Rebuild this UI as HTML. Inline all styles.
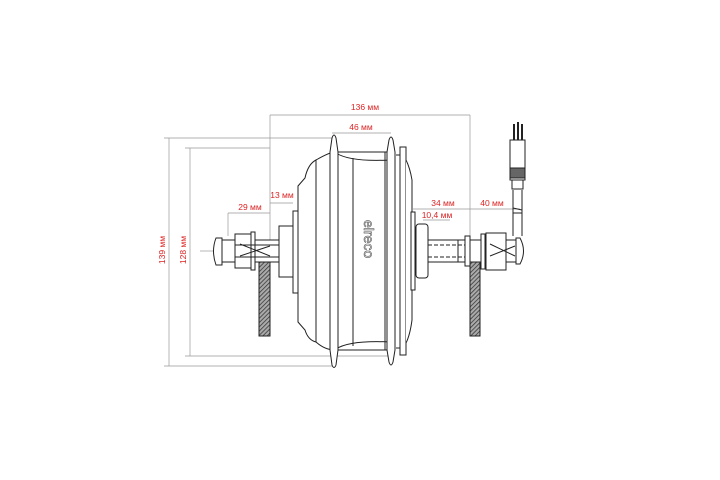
<!DOCTYPE html>
<html><head><meta charset="utf-8"><style>html,body{margin:0;padding:0;background:#fff}svg{display:block}</style></head><body>
<svg width="720" height="480" viewBox="0 0 720 480" xmlns="http://www.w3.org/2000/svg" font-family="Liberation Sans, sans-serif">
<defs><pattern id="h" width="3" height="3" patternUnits="userSpaceOnUse" patternTransform="rotate(45)"><rect width="3" height="3" fill="#aaa"/><line x1="0" y1="0" x2="0" y2="3" stroke="#333" stroke-width="1.5"/></pattern></defs>
<g stroke="#999" stroke-width="0.7" fill="none">
<line x1="270" y1="115" x2="470" y2="115"/>
<line x1="270" y1="115" x2="270" y2="262"/>
<line x1="470" y1="115" x2="470" y2="262"/>
<line x1="164" y1="138" x2="333" y2="138"/>
<line x1="164" y1="366" x2="333" y2="366"/>
<line x1="169" y1="138" x2="169" y2="366"/>
<line x1="185" y1="148" x2="270" y2="148"/>
<line x1="185" y1="356" x2="390" y2="356"/>
<line x1="190" y1="148" x2="190" y2="356"/>
<line x1="332" y1="133" x2="391" y2="133"/>
<line x1="270" y1="203" x2="293" y2="203"/>
<line x1="228" y1="213" x2="270" y2="213"/>
<line x1="228" y1="213" x2="228" y2="236"/>
<line x1="413" y1="209" x2="520" y2="209"/>
<line x1="423" y1="220" x2="450" y2="220"/>
<line x1="200" y1="251" x2="214" y2="251"/>
</g>
<g fill="#d22" font-size="8.5" text-anchor="middle">
<text x="365" y="110">136 мм</text>
<text x="361" y="130">46 мм</text>
<text x="282" y="198">13 мм</text>
<text x="250" y="210">29 мм</text>
<text x="443" y="206">34 мм</text>
<text x="492" y="206">40 мм</text>
<text x="437" y="218">10,4 мм</text>
<text transform="translate(165,250) rotate(-90)">139 мм</text>
<text transform="translate(186,250) rotate(-90)">128 мм</text>
</g>
<g stroke="#222" stroke-width="1" fill="#fff">
<!-- left cone -->
<path d="M316 160 L316 342 Q308 340 305 330 L298 322 L298 186 L305 178 Q308 164 316 160 Z"/>
<rect x="293" y="211" width="5" height="82"/>
<rect x="279" y="226" width="14" height="51"/>
<!-- main drum -->
<path d="M316 160 Q330 152 335 152 L390 152 L390 350 L335 350 Q325 350 316 342 Z"/>
<path d="M336 153 Q350 162 390 160" fill="none"/>
<path d="M336 349 Q350 340 390 342" fill="none"/>
<line x1="353" y1="158" x2="353" y2="346"/>
<line x1="385" y1="152" x2="385" y2="350"/>
<!-- flanges -->
<path d="M330 152 L332 138 Q334 132 336 138 L338 152 L338 350 L336 365 Q334 370 332 365 L330 350 Z"/>
<path d="M387 152 L389 140 Q391 134 393 140 L395 152 L395 350 L393 362 Q391 368 389 362 L387 350 Z"/>
<line x1="396" y1="155" x2="400" y2="155"/>
<line x1="396" y1="348" x2="400" y2="348"/>
<rect x="400" y="147" width="6" height="208"/>
<path d="M406 160 Q410 168 412 180 L412 320 Q410 335 406 343"/>
<rect x="411" y="212" width="4" height="78"/>
<rect x="416" y="224" width="12" height="54" rx="3"/>
<!-- left axle -->
<rect x="222" y="240" width="57" height="22"/>
<path d="M222 238 L216 238 Q211 251 216 265 L222 265 Z"/>
<rect x="235" y="234" width="16" height="34"/>
<rect x="251" y="232" width="4" height="38"/>
<line x1="235" y1="245" x2="279" y2="245"/>
<line x1="235" y1="257" x2="279" y2="257"/>
<line x1="240" y1="244" x2="270" y2="256"/>
<line x1="240" y1="256" x2="270" y2="246"/>
<rect x="259" y="262" width="11" height="74" fill="url(#h)"/>
<!-- right axle -->
<rect x="428" y="240" width="90" height="22"/>
<line x1="428" y1="245" x2="470" y2="245" stroke-dasharray="4 2"/>
<line x1="428" y1="257" x2="470" y2="257" stroke-dasharray="4 2"/>
<line x1="458" y1="240" x2="458" y2="262"/>
<rect x="465" y="236" width="5" height="30"/>
<rect x="486" y="233" width="20" height="37"/>
<rect x="481" y="234" width="4" height="35"/>
<path d="M516 238 L520 238 Q527 251 520 264 L516 264 Z"/>
<line x1="490" y1="244" x2="515" y2="256"/>
<line x1="490" y1="256" x2="515" y2="246"/>
<rect x="470" y="262" width="10" height="74" fill="url(#h)"/>
<!-- cable -->
<path d="M513 190 L513 236 M522 190 L522 236" fill="none"/>
<line x1="513" y1="208" x2="522" y2="210"/>
<line x1="513" y1="213" x2="522" y2="213"/>
<rect x="510" y="140" width="15" height="40"/>
<rect x="510" y="168" width="15" height="10" fill="#666"/>
<rect x="512" y="180" width="11" height="9"/>
<line x1="514" y1="124" x2="514" y2="140" stroke-width="2"/>
<line x1="518" y1="122" x2="518" y2="140" stroke-width="2"/>
<line x1="522" y1="124" x2="522" y2="140" stroke-width="2"/>
</g>
<text transform="translate(364,220) rotate(90)" font-size="14" fill="#fff" stroke="#555" stroke-width="0.6">elreco</text>
</svg>
</body></html>
